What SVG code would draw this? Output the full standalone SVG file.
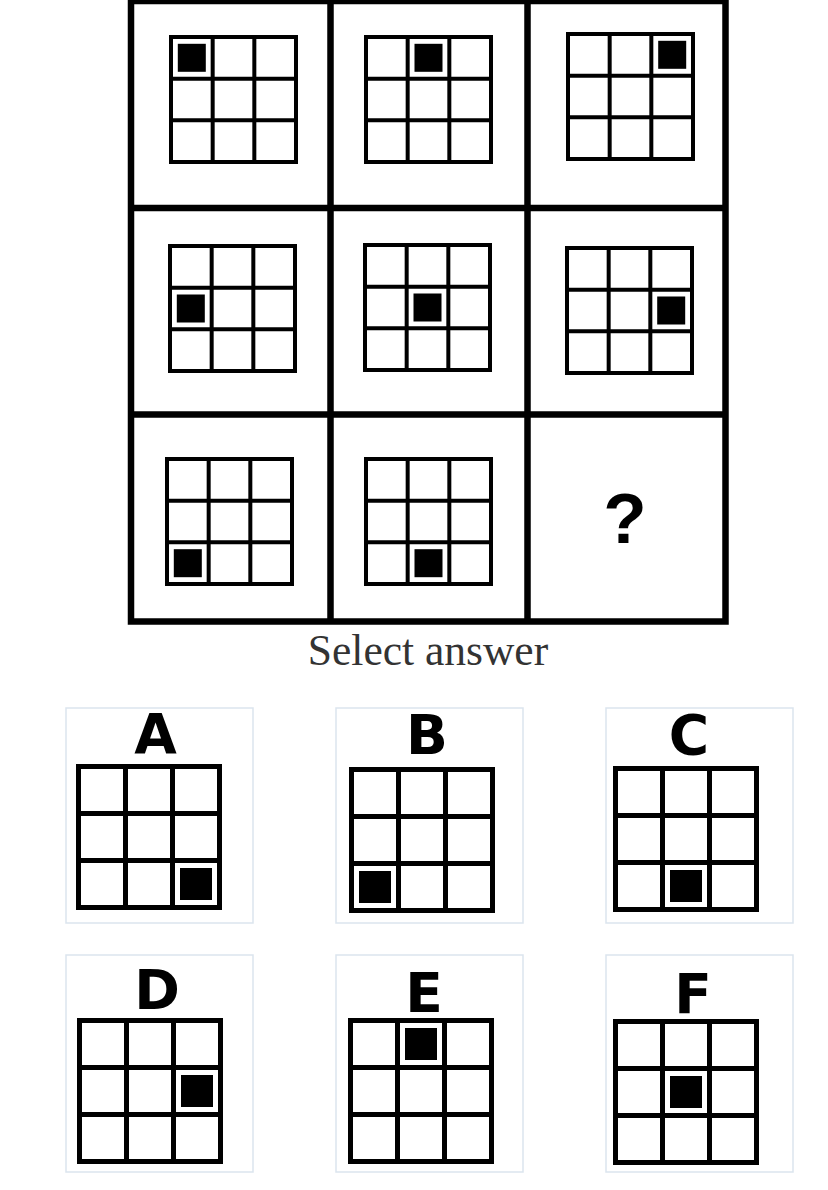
<svg xmlns="http://www.w3.org/2000/svg" xmlns:xlink="http://www.w3.org/1999/xlink" width="828" height="1190" viewBox="0 0 828 1190">
<style>
.frame{fill:none;stroke:#000;stroke-width:6.5}
.gl{fill:none;stroke:#000;stroke-width:4}
.ol{fill:none;stroke:#000;stroke-width:5}
.dot{fill:#000}
.box{fill:#fff;stroke:#dbe5ee;stroke-width:1.5}
.lbl{font-family:"DejaVu Sans",Verdana,sans-serif;font-weight:bold;font-size:55px;fill:#000;text-anchor:middle}
.q{font-family:"Liberation Sans",Arial,sans-serif;font-weight:bold;font-size:71px;fill:#000;text-anchor:middle}
.sel{font-family:"Liberation Serif","Times New Roman",serif;font-size:43.5px;fill:#333;text-anchor:middle}
</style>
<defs>
<g id="mg">
<rect class="gl" x="2" y="2" width="125" height="125"/>
<path class="gl" d="M43.67,2V127M85.33,2V127M2,43.67H127M2,85.33H127"/>
</g>
<g id="og">
<rect class="ol" x="2.5" y="2.5" width="141" height="141"/>
<path class="ol" d="M49.5,2.5V143.5M96.5,2.5V143.5M2.5,49.5H143.5M2.5,96.5H143.5"/>
</g>
</defs>
<rect x="0" y="0" width="828" height="1190" fill="#fff"/>
<g id="matrix-frame">
<rect class="frame" x="131" y="1" width="594.5" height="620.5"/>
<path class="frame" d="M330.5,1V621.5M527.5,1V621.5M131,208H725.5M131,414.5H725.5"/>
</g>
<g id="cell-r1c1"><use xlink:href="#mg" x="169" y="35"/><rect class="dot" x="177.8" y="43.8" width="28" height="28"/></g>
<g id="cell-r1c2"><use xlink:href="#mg" x="364" y="35"/><rect class="dot" x="414.5" y="43.8" width="28" height="28"/></g>
<g id="cell-r1c3"><use xlink:href="#mg" x="566" y="32"/><rect class="dot" x="658.2" y="40.8" width="28" height="28"/></g>
<g id="cell-r2c1"><use xlink:href="#mg" x="168" y="244"/><rect class="dot" x="176.8" y="294.5" width="28" height="28"/></g>
<g id="cell-r2c2"><use xlink:href="#mg" x="363" y="243"/><rect class="dot" x="413.5" y="293.5" width="28" height="28"/></g>
<g id="cell-r2c3"><use xlink:href="#mg" x="565" y="246"/><rect class="dot" x="657.2" y="296.5" width="28" height="28"/></g>
<g id="cell-r3c1"><use xlink:href="#mg" x="165" y="457"/><rect class="dot" x="173.8" y="549.2" width="28" height="28"/></g>
<g id="cell-r3c2"><use xlink:href="#mg" x="364" y="457"/><rect class="dot" x="414.5" y="549.2" width="28" height="28"/></g>
<g id="cell-r3c3"><text class="q" x="625" y="543">?</text></g>
<g id="prompt"><text class="sel" x="428" y="665">Select answer</text></g>
<g id="option-A"><rect class="box" x="66" y="708" width="187" height="215"/><text class="lbl" x="155.5" y="753">A</text><use xlink:href="#og" x="76" y="764"/><rect class="dot" x="180" y="868" width="32" height="32"/></g>
<g id="option-B"><rect class="box" x="336" y="708" width="187" height="215"/><text class="lbl" x="427" y="754">B</text><use xlink:href="#og" x="349" y="767"/><rect class="dot" x="359" y="871" width="32" height="32"/></g>
<g id="option-C"><rect class="box" x="606" y="708" width="187" height="215"/><text class="lbl" x="689" y="754">C</text><use xlink:href="#og" x="613" y="766"/><rect class="dot" x="670" y="870" width="32" height="32"/></g>
<g id="option-D"><rect class="box" x="66" y="955" width="187" height="217"/><text class="lbl" x="157" y="1009">D</text><use xlink:href="#og" x="77" y="1018"/><rect class="dot" x="181" y="1075" width="32" height="32"/></g>
<g id="option-E"><rect class="box" x="336" y="955" width="187" height="217"/><text class="lbl" x="424" y="1012">E</text><use xlink:href="#og" x="348" y="1018"/><rect class="dot" x="405" y="1028" width="32" height="32"/></g>
<g id="option-F"><rect class="box" x="606" y="955" width="187" height="217"/><text class="lbl" x="693" y="1013">F</text><use xlink:href="#og" x="613" y="1019"/><rect class="dot" x="670" y="1076" width="32" height="32"/></g>
<g id="connectors"/>
</svg>
